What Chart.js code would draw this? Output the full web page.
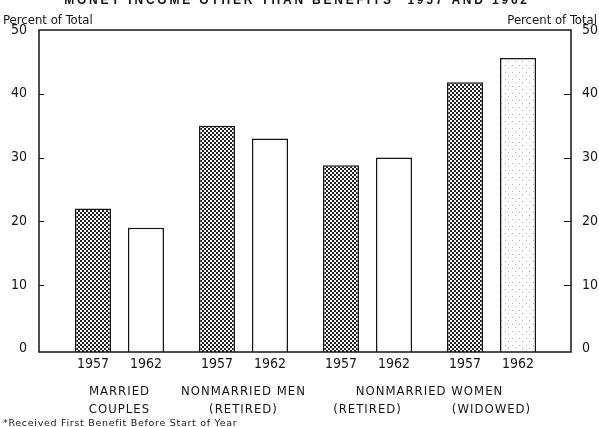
<!DOCTYPE html>
<html>
<head>
<meta charset="utf-8">
<script src="https://cdn.jsdelivr.net/npm/chart.js@4.4.1/dist/chart.umd.min.js"></script>
<style>
  html, body { margin: 0; padding: 0; background: #fff; }
  #wrap { width: 599px; height: 427px; position: relative; }
</style>
</head>
<body>
<div id="wrap"><canvas id="myChart"></canvas></div>
<script>
// data
let years = ['1957', '1962']
let values1957 = [22, 35, 28.8, 41.8]
let values1962 = [19, 33, 30, 45.6]
let topLabels = ['MARRIED', 'NONMARRIED MEN', 'NONMARRIED WOMEN']
let topSpans = [[0, 0], [1, 1], [2, 3]] // which groups each top label covers
let subLabels = ['COUPLES', '(RETIRED)', '(RETIRED)', '(WIDOWED)']
let groupIndex = [0, 1, 2, 3]
let yTicks = [0, 10, 20, 30, 40, 50]
let titleText = 'MONEY INCOME OTHER THAN BENEFITS* 1957 AND 1962'
let unitText = 'Percent of Total'
let footText = '*Received First Benefit Before Start of Year'

let ink = '#151515'
let narrow = '"Liberation Sans Narrow", "DejaVu Sans Condensed", sans-serif'

// halftone fills
const makePattern = (size, dots, color) => {
    let c = document.createElement('canvas')
    c.width = size; c.height = size
    let g = c.getContext('2d')
    g.fillStyle = '#fff'
    g.fillRect(0, 0, size, size)
    g.fillStyle = color
    for (let d of dots) g.fillRect(d[0], d[1], d[2], d[2])
    return g.createPattern(c, 'repeat')
}
let ctx = document.getElementById('myChart').getContext('2d')
let darkDots = makePattern(4, [[0, 0, 2], [2, 2, 2]], '#222')
let lightDots = makePattern(7, [[1, 2, 1], [4, 5, 1]], '#b0b0b0')

let fill1962 = values1962.map((v, i) => i === values1962.length - 1 ? lightDots : '#fff')

const toPoints = arr => arr.map((v, i) => ({ x: groupIndex[i], y: v }))

const fixTicks = scale => { scale.ticks = yTicks.map(v => ({ value: v })) }

let decor = {
    id: 'decor',
    afterDraw(chart) {
        let c = chart.ctx
        let a = chart.chartArea
        let xs = chart.scales.x
        let ys = chart.scales.y
        c.save()
        // frame
        c.strokeStyle = ink
        c.lineWidth = 1.5
        c.strokeRect(a.left, a.top, a.right - a.left, a.bottom - a.top)
        // inward tick marks
        c.lineWidth = 1
        for (let v of yTicks) {
            let py = Math.round(ys.getPixelForValue(v)) + 0.5
            if (v === 0 || v === 50) continue
            c.beginPath()
            c.moveTo(a.left, py); c.lineTo(a.left + 5, py)
            c.moveTo(a.right, py); c.lineTo(a.right - 7, py)
            c.stroke()
        }
        c.fillStyle = ink
        c.textAlign = 'center'
        c.textBaseline = 'alphabetic'
        // year under each bar
        c.font = '14px ' + narrow
        chart.data.datasets.forEach((ds, di) => {
            let meta = chart.getDatasetMeta(di)
            meta.data.forEach(bar => c.fillText(years[di], bar.x, 368))
        })
        // group names
        c.font = '13px ' + narrow
        c.letterSpacing = '1px'
        topLabels.forEach((t, i) => {
            let mid = (topSpans[i][0] + topSpans[i][1]) / 2
            c.fillText(t, xs.getPixelForValue(mid), 395)
        })
        subLabels.forEach((t, i) => c.fillText(t, xs.getPixelForValue(groupIndex[i]), 413))
        // units
        c.letterSpacing = '0px'
        c.font = '13px ' + narrow
        c.textAlign = 'left'
        c.fillText(unitText, 3, 24)
        c.textAlign = 'right'
        c.fillText(unitText, 597, 24)
        // footnote
        c.textAlign = 'left'
        c.font = '9.5px "DejaVu Sans", sans-serif'
        c.letterSpacing = '0.7px'
        c.fillText(footText, 3, 426)
        // title, cut by the top edge
        c.textAlign = 'center'
        c.font = 'bold 12px "Liberation Sans", sans-serif'
        c.letterSpacing = '2.8px'
        c.fillText(titleText, 297, 4)
        c.restore()
    }
}

let chart = new Chart(ctx, {
    type: 'bar',
    data: {
        datasets: [
            {
                label: years[0],
                data: toPoints(values1957),
                backgroundColor: darkDots,
                borderColor: ink,
                borderWidth: 1.5,
                base: -0.5
            },
            {
                label: years[1],
                data: toPoints(values1962),
                backgroundColor: fill1962,
                borderColor: ink,
                borderWidth: 1.5,
                base: -0.5
            }
        ]
    },
    options: {
        responsive: true,
        maintainAspectRatio: false,
        animation: false,
        categoryPercentage: 0.855,
        barPercentage: 0.68,
        layout: { padding: { top: 30, bottom: 75, left: 0, right: 0 } },
        plugins: { legend: { display: false }, tooltip: { enabled: false } },
        scales: {
            x: {
                type: 'linear',
                min: -0.649,
                max: 3.641,
                offset: false,
                afterBuildTicks: scale => { scale.ticks = groupIndex.map(v => ({ value: v })) },
                display: false
            },
            y: {
                position: 'left',
                min: -0.5,
                max: 50,
                afterBuildTicks: fixTicks,
                afterFit: s => { s.width = 39 },
                grid: { display: false, drawTicks: false },
                border: { display: false },
                ticks: { color: ink, padding: 12, font: { family: narrow, size: 14 } }
            },
            y2: {
                position: 'right',
                min: -0.5,
                max: 50,
                afterBuildTicks: fixTicks,
                afterFit: s => { s.width = 28 },
                grid: { display: false, drawTicks: false },
                border: { display: false },
                ticks: { color: ink, padding: 11, font: { family: narrow, size: 14 } }
            }
        }
    },
    plugins: [decor]
})
</script>
</body>
</html>
